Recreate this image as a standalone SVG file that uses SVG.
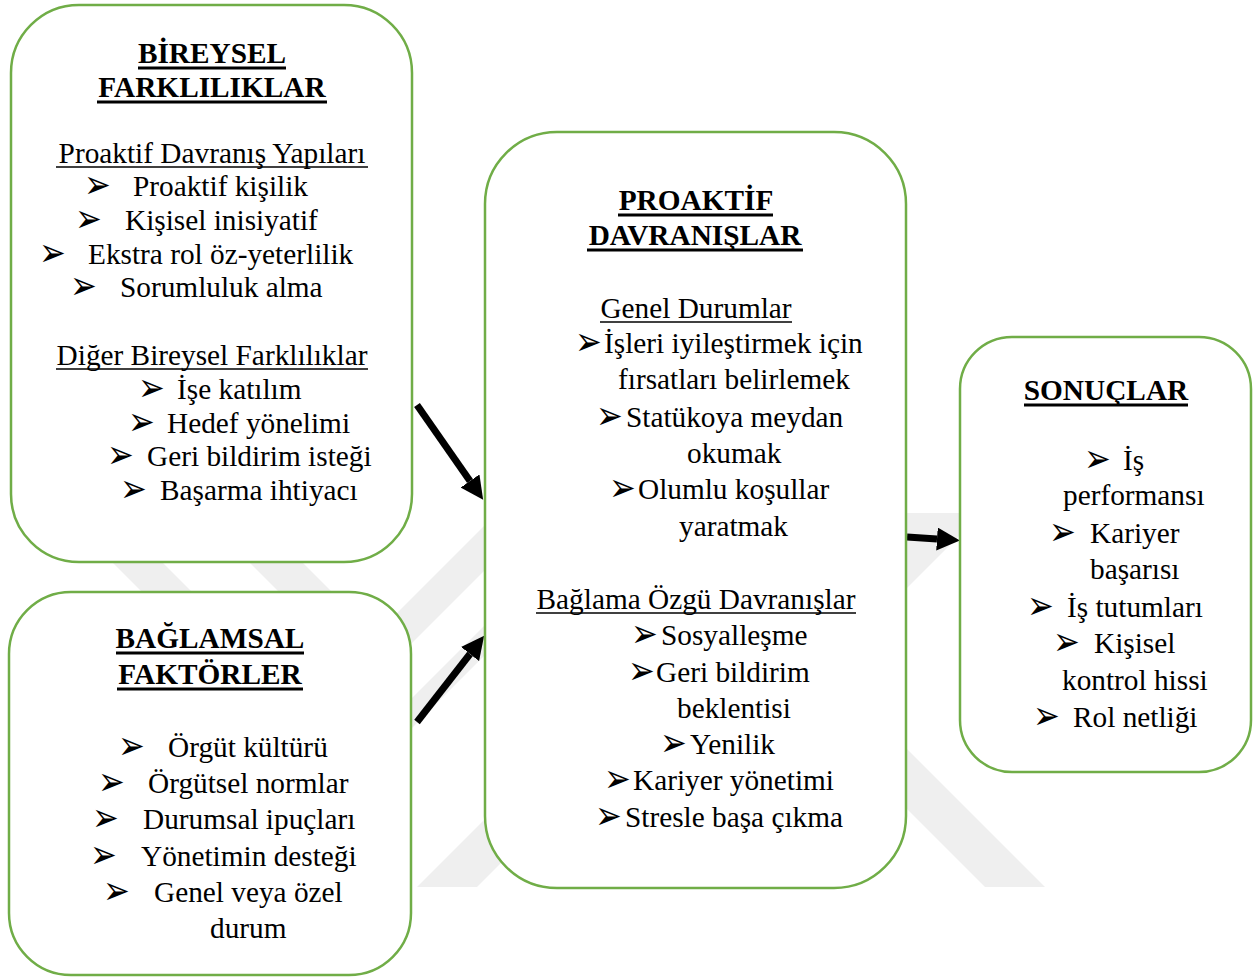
<svg xmlns="http://www.w3.org/2000/svg" width="1257" height="978" viewBox="0 0 1257 978">
  <style>
    .box { fill: #ffffff; stroke: #70ad47; stroke-width: 2.5; }
    .t { font-family: "Liberation Serif", "Times New Roman", serif; font-size: 29.3px; fill: #000000; }
    .h { font-weight: bold; }
    .c { text-anchor: middle; }
    .bl { font-family: "DejaVu Sans", sans-serif; font-size: 32px; fill: #000000; }
    .ul { stroke: #000000; stroke-width: 1.6; }
    .ulh { stroke: #000000; stroke-width: 3; }
    .wm { fill: #efefef; }
    .conn { stroke: #000000; stroke-width: 7; fill: none; marker-end: url(#head); }
  </style>
  <defs>
    <marker id="head" markerUnits="userSpaceOnUse" markerWidth="24" markerHeight="24" refX="0" refY="11.5" orient="auto">
      <path d="M0,0 L23,11.5 L0,23 Z" fill="#000000"/>
    </marker>
    <!-- list bullet, stretched a little taller -->
    <text id="bul" class="bl" x="-4" y="1.5" transform="scale(1,1.25)">➢</text>
  </defs>

  <rect x="0" y="0" width="1257" height="978" fill="#ffffff"/>

  <!-- faint background emblem -->
  <g id="watermark">
    <polygon class="wm" points="93,543 143,543 215,615 165,615"/>
    <polygon class="wm" points="230,543 283,543 352,612 299,612"/>
    <polygon class="wm" points="395,660 495,560 495,515 395,615"/>
    <polygon class="wm" points="395,745 495,645 495,615 395,715"/>
    <polygon class="wm" points="417,887 477,887 790,574 730,574"/>
    <polygon class="wm" points="985,887 1045,887 732,574 672,574"/>
    <polygon class="wm" points="880,513 982,513 880,615"/>
  </g>

  <g id="connectors">
    <path class="conn" d="M417,405 L470,481"/>
    <path class="conn" d="M417,722 L470,654"/>
    <path class="conn" d="M907,537 L937,539"/>
  </g>

  <g id="node-bireysel">
    <rect class="box" x="11" y="5" width="401" height="557" rx="68" ry="68"/>
    <text class="t h c" x="212" y="63">BİREYSEL</text>
    <line class="ulh" x1="138" y1="68" x2="286" y2="68"/>
    <text class="t h c" x="212" y="97">FARKLILIKLAR</text>
    <line class="ulh" x1="97" y1="102" x2="327" y2="102"/>
    <text class="t c" x="212" y="163">Proaktif Davranış Yapıları</text>
    <line class="ul" x1="56" y1="167" x2="368" y2="167"/>
    <use href="#bul" x="88" y="196"/><text class="t" x="133" y="196">Proaktif kişilik</text>
    <use href="#bul" x="79" y="230"/><text class="t" x="125" y="230">Kişisel inisiyatif</text>
    <use href="#bul" x="43" y="264"/><text class="t" x="88" y="264">Ekstra rol öz-yeterlilik</text>
    <use href="#bul" x="74" y="297"/><text class="t" x="120" y="297">Sorumluluk alma</text>
    <text class="t c" x="212" y="365">Diğer Bireysel Farklılıklar</text>
    <line class="ul" x1="56" y1="369" x2="368" y2="369"/>
    <use href="#bul" x="142" y="399"/><text class="t" x="177" y="399">İşe katılım</text>
    <use href="#bul" x="132" y="433"/><text class="t" x="167" y="433">Hedef yönelimi</text>
    <use href="#bul" x="111" y="466"/><text class="t" x="147" y="466">Geri bildirim isteği</text>
    <use href="#bul" x="124" y="500"/><text class="t" x="160" y="500">Başarma ihtiyacı</text>
  </g>

  <g id="node-baglamsal">
    <rect class="box" x="9" y="592" width="402" height="383" rx="62" ry="62"/>
    <text class="t h c" x="210" y="648">BAĞLAMSAL</text>
    <line class="ulh" x1="116" y1="653" x2="304" y2="653"/>
    <text class="t h c" x="210" y="684">FAKTÖRLER</text>
    <line class="ulh" x1="117" y1="689" x2="303" y2="689"/>
    <use href="#bul" x="122" y="757"/><text class="t" x="168" y="757">Örgüt kültürü</text>
    <use href="#bul" x="102" y="793"/><text class="t" x="148" y="793">Örgütsel normlar</text>
    <use href="#bul" x="96" y="829"/><text class="t" x="143" y="829">Durumsal ipuçları</text>
    <use href="#bul" x="94" y="866"/><text class="t" x="141" y="866">Yönetimin desteği</text>
    <use href="#bul" x="107" y="902"/><text class="t" x="154" y="902">Genel veya özel</text>
    <text class="t" x="210" y="938">durum</text>
  </g>

  <g id="node-proaktif">
    <rect class="box" x="485" y="132" width="421" height="756" rx="72" ry="72"/>
    <text class="t h c" x="696" y="210">PROAKTİF</text>
    <line class="ulh" x1="618" y1="215" x2="773" y2="215"/>
    <text class="t h c" x="695" y="245">DAVRANIŞLAR</text>
    <line class="ulh" x1="587" y1="250" x2="803" y2="250"/>
    <text class="t c" x="696" y="318">Genel Durumlar</text>
    <line class="ul" x1="600" y1="322" x2="792" y2="322"/>
    <use href="#bul" x="579" y="353"/><text class="t" x="604" y="353">İşleri iyileştirmek için</text>
    <text class="t" x="618" y="389">fırsatları belirlemek</text>
    <use href="#bul" x="600" y="427"/><text class="t" x="626" y="427">Statükoya meydan</text>
    <text class="t" x="687" y="463">okumak</text>
    <use href="#bul" x="613" y="499"/><text class="t" x="638" y="499">Olumlu koşullar</text>
    <text class="t" x="679" y="536">yaratmak</text>
    <text class="t c" x="696" y="609">Bağlama Özgü Davranışlar</text>
    <line class="ul" x1="536" y1="613" x2="856" y2="613"/>
    <use href="#bul" x="635" y="645"/><text class="t" x="661" y="645">Sosyalleşme</text>
    <use href="#bul" x="632" y="682"/><text class="t" x="656" y="682">Geri bildirim</text>
    <text class="t" x="677" y="718">beklentisi</text>
    <use href="#bul" x="664" y="754"/><text class="t" x="690" y="754">Yenilik</text>
    <use href="#bul" x="608" y="790"/><text class="t" x="633" y="790">Kariyer yönetimi</text>
    <use href="#bul" x="599" y="827"/><text class="t" x="625" y="827">Stresle başa çıkma</text>
  </g>

  <g id="node-sonuclar">
    <rect class="box" x="960" y="337" width="291" height="435" rx="52" ry="52"/>
    <text class="t h c" x="1106" y="400">SONUÇLAR</text>
    <line class="ulh" x1="1024" y1="405" x2="1188" y2="405"/>
    <use href="#bul" x="1088" y="470"/><text class="t" x="1123" y="470">İş</text>
    <text class="t" x="1063" y="505">performansı</text>
    <use href="#bul" x="1053" y="543"/><text class="t" x="1090" y="543">Kariyer</text>
    <text class="t" x="1090" y="579">başarısı</text>
    <use href="#bul" x="1031" y="617"/><text class="t" x="1067" y="617">İş tutumları</text>
    <use href="#bul" x="1057" y="653"/><text class="t" x="1094" y="653">Kişisel</text>
    <text class="t" x="1062" y="690">kontrol hissi</text>
    <use href="#bul" x="1037" y="727"/><text class="t" x="1073" y="727">Rol netliği</text>
  </g>
</svg>
